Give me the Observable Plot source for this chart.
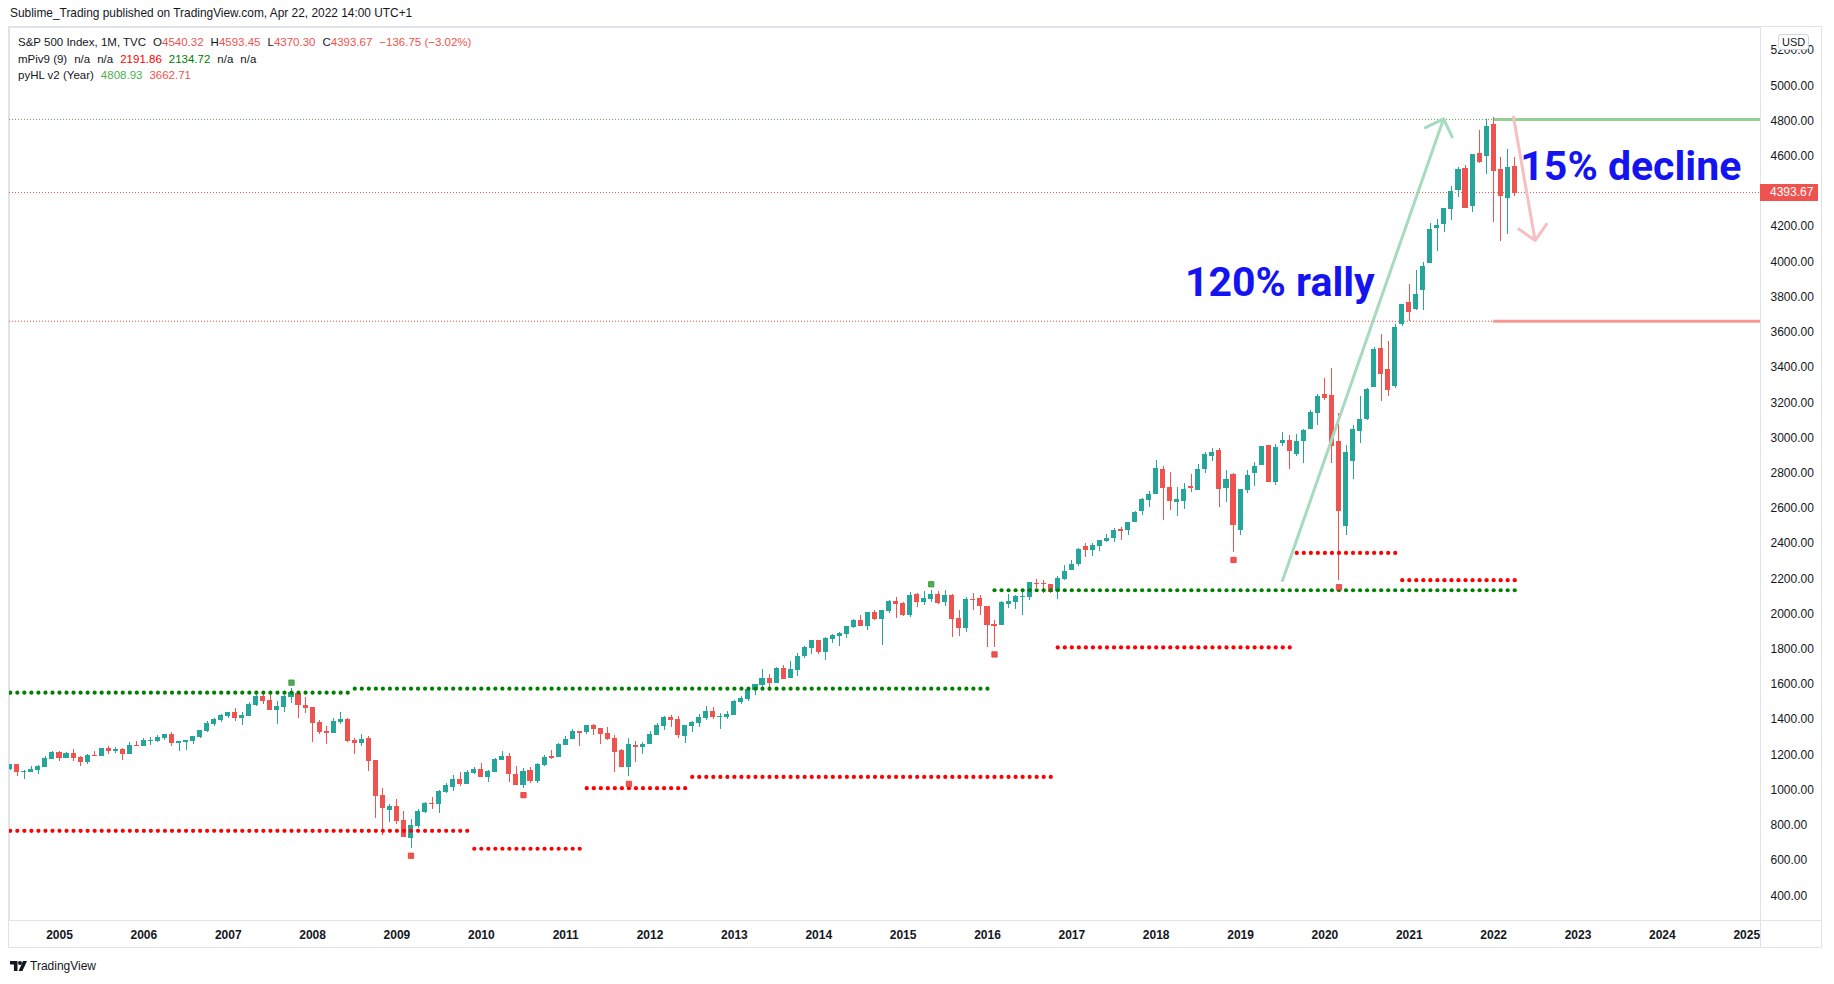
<!DOCTYPE html>
<html><head><meta charset="utf-8">
<script src="https://cdn.jsdelivr.net/npm/d3@7"></script>
<script src="https://cdn.jsdelivr.net/npm/@observablehq/plot@0.6"></script>
<style>
body{margin:0;background:#fff;}
#page{position:relative;width:1834px;height:984px;overflow:hidden;font-family:"Liberation Sans",Arial,sans-serif;color:#131722;}
#pub{position:absolute;left:10px;top:6px;font-size:11.9px;white-space:nowrap;}
#frame{position:absolute;left:8px;top:26px;width:1812px;height:920px;border:1px solid #e0e3eb;}
#chart{position:absolute;left:0;top:27px;}
.ln{position:absolute;background:#e0e3eb;}
#legend{position:absolute;left:18px;top:34px;font-size:11.5px;line-height:16.6px;white-space:nowrap;}
#legend .gap{margin-left:7px;}
.r{color:#ef5350}.rr{color:#ff0000}.gg{color:#008000}.g{color:#4caf50}
#usd{position:absolute;left:1778px;top:34px;height:14px;line-height:14px;padding:0 3px;font-size:11px;border:1px solid #d1d4dc;border-radius:3px;background:#fff;}
#last{position:absolute;left:1760px;width:58px;height:17px;line-height:17px;background:#ef5350;color:#fff;font-size:12px;box-sizing:border-box;padding-left:10px;}
#logo{position:absolute;left:10px;top:959px;font-size:12px;display:flex;align-items:center;gap:3px;}
</style></head><body>
<div id="page">
  <div id="pub">Sublime_Trading published on TradingView.com, Apr 22, 2022 14:00 UTC+1</div>
  <div id="frame"></div>
  <div id="chart"></div>
  <div class="ln" style="left:1760px;top:920px;width:62px;height:1px"></div>
  <div class="ln" style="left:1760px;top:920px;width:1px;height:28px"></div>
  <div id="legend">
    <div><span>S&amp;P 500 Index, 1M, TVC</span><span class="gap"></span><span>O</span><span class="r">4540.32</span><span class="gap"></span><span>H</span><span class="r">4593.45</span><span class="gap"></span><span>L</span><span class="r">4370.30</span><span class="gap"></span><span>C</span><span class="r">4393.67</span><span class="gap"></span><span class="r">−136.75 (−3.02%)</span></div>
    <div><span>mPiv9 (9)</span><span class="gap"></span><span>n/a</span><span class="gap"></span><span>n/a</span><span class="gap"></span><span class="rr">2191.86</span><span class="gap"></span><span class="gg">2134.72</span><span class="gap"></span><span>n/a</span><span class="gap"></span><span>n/a</span></div>
    <div><span>pyHL v2 (Year)</span><span class="gap"></span><span class="g">4808.93</span><span class="gap"></span><span class="r">3662.71</span></div>
  </div>
  <div id="usd">USD</div>
  <div id="last"></div>
  <div id="logo">
    <svg width="17" height="10" viewBox="0 0 17 10"><path d="M0 0h7.5v10h-3.6v-6.4H0z" fill="#131722"/><circle cx="10" cy="2" r="2" fill="#131722"/><path d="M13 0h4l-4.6 10H8.6z" fill="#131722"/></svg>
    <span>TradingView</span>
  </div>
</div>
<script>
// ---- data: S&P 500 monthly candles, first candle = June 2004 ----
const firstYear = 2004, firstMonth = 6;
const ohlcOpen = [
1120.68,1140.84,1101.72,1104.24,1114.58,1130.20,1173.82,
1211.92,1181.27,1203.60,1180.59,1156.85,1191.50,1191.33,1234.18,1220.33,1228.81,1207.01,1249.48,
1248.29,1280.08,1280.66,1294.83,1310.61,1270.09,1270.20,1276.66,1303.82,1335.85,1377.94,1400.63,
1418.30,1438.24,1406.82,1420.86,1482.37,1530.62,1503.35,1455.27,1473.99,1526.75,1545.79,1479.63,
1467.97,1378.60,1330.45,1326.41,1385.97,1399.62,1276.69,1269.42,1287.83,1164.17,968.67,888.61,
902.99,823.09,729.57,793.59,872.74,923.26,920.82,990.22,1019.52,1054.91,1036.18,1098.89,
1116.56,1073.89,1105.36,1171.23,1188.58,1087.30,1031.10,1107.53,1049.72,1143.49,1185.71,1186.60,
1257.62,1289.14,1328.64,1329.48,1365.21,1345.20,1320.64,1292.59,1219.12,1131.21,1251.00,1246.91,
1258.86,1312.45,1365.90,1408.47,1397.86,1309.87,1362.33,1379.32,1406.54,1440.90,1412.20,1416.18,
1426.19,1498.11,1514.68,1569.18,1597.55,1631.71,1609.78,1689.42,1635.95,1681.34,1758.70,1806.55,
1845.86,1782.68,1857.68,1873.96,1884.39,1923.87,1962.29,1929.80,2004.07,1971.44,2018.21,2065.78,
2058.90,1996.67,2105.23,2067.63,2087.38,2108.64,2067.00,2104.49,1970.09,1919.65,2080.76,2082.93,
2038.20,1936.94,1937.09,2056.62,2067.17,2093.94,2099.34,2173.15,2171.33,2164.33,2128.68,2200.17,
2251.57,2285.59,2380.13,2362.34,2388.50,2415.65,2431.39,2477.10,2474.42,2521.20,2583.21,2645.10,
2683.73,2816.45,2715.22,2633.45,2642.96,2718.70,2704.95,2821.17,2896.96,2926.29,2717.58,2790.50,
2476.96,2702.32,2798.22,2848.63,2952.33,2751.53,2971.41,2980.32,2909.01,2983.69,3050.72,3143.85,
3244.67,3235.66,2974.28,2498.08,2869.09,3038.78,3105.92,3288.26,3507.44,3385.87,3296.20,3645.87,
3764.61,3731.17,3842.51,3992.78,4191.98,4216.52,4300.73,4406.86,4528.80,4317.16,4610.62,4602.82,
4778.14,4519.57,4363.14,4540.32];
const ohlcHigh = [
1146.18,1140.84,1108.60,1131.54,1142.05,1188.46,1217.90,
1217.80,1212.44,1229.11,1191.88,1199.56,1219.59,1236.79,1245.86,1243.13,1233.34,1270.64,1275.80,
1294.90,1297.57,1310.88,1318.16,1326.70,1274.93,1280.42,1306.74,1340.28,1389.45,1407.89,1431.81,
1441.61,1461.57,1438.89,1498.02,1535.56,1540.56,1555.90,1503.89,1538.74,1576.09,1545.79,1523.57,
1471.77,1396.02,1359.68,1404.57,1440.24,1404.05,1292.17,1313.15,1303.04,1167.03,1007.51,918.85,
943.85,877.86,832.98,888.70,930.17,956.23,996.68,1039.47,1080.15,1101.36,1113.69,1130.38,
1150.45,1112.42,1180.16,1219.80,1206.48,1131.23,1120.95,1129.24,1148.90,1196.14,1227.08,1262.60,
1302.67,1344.07,1332.28,1366.94,1370.58,1345.20,1356.48,1307.38,1229.29,1292.66,1277.55,1269.37,
1333.47,1378.04,1419.15,1422.38,1415.32,1363.46,1391.74,1426.68,1474.51,1470.96,1434.27,1448.00,
1509.94,1530.94,1570.28,1597.57,1687.18,1654.19,1698.78,1709.67,1729.86,1775.22,1813.55,1849.44,
1850.84,1867.92,1883.97,1897.28,1924.03,1968.17,1991.39,2005.04,2019.26,2018.19,2075.76,2093.55,
2064.43,2119.59,2117.52,2125.92,2134.72,2129.87,2132.82,2112.66,2020.86,2094.32,2116.48,2104.27,
2038.20,1962.96,2072.21,2111.05,2103.48,2120.55,2177.09,2193.81,2187.87,2169.60,2214.10,2277.53,
2300.99,2371.54,2400.98,2398.16,2418.71,2453.82,2484.04,2490.87,2519.44,2582.98,2657.74,2694.97,
2872.87,2835.96,2801.90,2717.49,2742.10,2791.47,2848.03,2916.50,2940.91,2939.86,2815.15,2800.18,
2708.95,2813.49,2860.31,2949.52,2954.13,2964.15,3027.98,3013.59,3021.99,3050.10,3154.26,3247.93,
3337.77,3393.52,3136.72,2954.86,3068.67,3233.13,3279.99,3514.77,3588.11,3549.85,3645.99,3760.20,
3870.90,3950.43,3994.41,4218.78,4238.04,4302.43,4429.97,4537.36,4545.85,4608.08,4743.83,4808.93,
4818.62,4595.31,4637.30,4593.45];
const ohlcLow = [
1113.32,1078.78,1060.72,1099.18,1090.19,1127.60,1173.37,
1163.75,1180.95,1163.69,1136.15,1146.18,1188.30,1191.33,1201.07,1205.35,1168.20,1201.07,1246.59,
1245.74,1253.61,1268.42,1280.74,1245.34,1219.29,1224.54,1261.30,1290.93,1327.10,1360.98,1385.93,
1403.97,1389.42,1363.98,1416.37,1476.70,1484.18,1454.25,1370.60,1439.29,1489.56,1406.10,1435.65,
1270.05,1316.75,1256.98,1324.35,1373.07,1272.00,1200.44,1247.45,1106.39,839.80,741.02,815.69,
804.47,734.52,666.79,783.32,866.10,888.86,869.32,978.51,991.97,1020.18,1029.38,1085.89,
1071.59,1044.50,1105.36,1170.69,1040.78,1028.33,1010.91,1039.70,1039.70,1131.87,1173.00,1186.60,
1257.62,1289.14,1249.05,1314.61,1311.80,1258.07,1282.86,1101.54,1136.22,1074.77,1158.66,1202.37,
1258.86,1312.45,1340.03,1357.38,1291.98,1266.74,1325.41,1354.65,1396.56,1403.28,1343.35,1398.11,
1426.19,1485.01,1501.48,1536.03,1581.28,1560.33,1604.57,1627.47,1633.41,1646.47,1746.20,1767.99,
1770.45,1737.92,1834.44,1814.36,1859.79,1915.98,1930.67,1904.78,1964.04,1820.66,2001.01,1972.56,
1988.44,1980.90,2039.69,2048.38,2067.93,2056.32,2044.02,1867.01,1871.91,1893.70,2019.39,1993.26,
1812.29,1810.10,1937.09,2033.80,2025.91,1991.68,2074.02,2147.58,2119.12,2114.72,2083.79,2187.44,
2245.13,2271.65,2322.25,2328.95,2352.72,2405.70,2407.70,2417.35,2446.55,2520.40,2557.45,2605.52,
2682.36,2532.69,2585.89,2553.80,2594.62,2691.99,2698.95,2796.34,2864.12,2603.54,2631.09,2346.58,
2443.96,2681.83,2722.27,2848.63,2750.52,2728.81,2952.22,2822.12,2891.85,2855.94,3050.72,3070.33,
3214.64,2855.84,2191.86,2447.49,2766.64,2965.66,3101.17,3284.53,3209.45,3233.94,3279.74,3633.40,
3662.71,3725.62,3723.34,3992.78,4056.88,4164.40,4233.13,4367.73,4305.91,4278.94,4560.00,4495.12,
4222.62,4114.65,4157.87,4370.30];
const ohlcClose = [
1140.84,1101.72,1104.24,1114.58,1130.20,1173.82,1211.92,
1181.27,1203.60,1180.59,1156.85,1191.50,1191.33,1234.18,1220.33,1228.81,1207.01,1249.48,1248.29,
1280.08,1280.66,1294.83,1310.61,1270.09,1270.20,1276.66,1303.82,1335.85,1377.94,1400.63,1418.30,
1438.24,1406.82,1420.86,1482.37,1530.62,1503.35,1455.27,1473.99,1526.75,1549.38,1481.14,1468.36,
1378.55,1330.63,1322.70,1385.59,1400.38,1280.00,1267.38,1282.83,1166.36,968.75,896.24,903.25,
825.88,735.09,797.87,872.81,919.14,919.32,987.48,1020.62,1057.08,1036.19,1095.63,1115.10,
1073.87,1104.49,1169.43,1186.69,1089.41,1030.71,1101.60,1049.33,1141.20,1183.26,1180.55,1257.64,
1286.12,1327.22,1325.83,1363.61,1345.20,1320.64,1292.28,1218.89,1131.42,1253.30,1246.96,1257.60,
1312.41,1365.68,1408.47,1397.91,1310.33,1362.16,1379.32,1406.58,1440.67,1412.16,1416.18,1426.19,
1498.11,1514.68,1569.19,1597.57,1630.74,1606.28,1685.73,1632.97,1681.55,1756.54,1805.81,1848.36,
1782.59,1859.45,1872.34,1883.95,1923.57,1960.23,1930.67,2003.37,1972.29,2018.05,2067.56,2058.90,
1994.99,2104.50,2067.89,2085.51,2107.39,2063.11,2103.84,1972.18,1920.03,2079.36,2080.41,2043.94,
1940.24,1932.23,2059.74,2065.30,2096.95,2098.86,2173.60,2170.95,2168.27,2126.15,2198.81,2238.83,
2278.87,2363.64,2362.72,2384.20,2411.80,2423.41,2470.30,2471.65,2519.36,2575.26,2647.58,2673.61,
2823.81,2713.83,2640.87,2648.05,2705.27,2718.37,2816.29,2901.52,2913.98,2711.74,2760.17,2506.85,
2704.10,2784.49,2834.40,2945.83,2752.06,2941.76,2980.38,2926.46,2976.74,3037.56,3140.98,3230.78,
3225.52,2954.22,2584.59,2912.43,3044.31,3100.29,3271.12,3500.31,3363.00,3269.96,3621.63,3756.07,
3714.24,3811.15,3972.89,4181.17,4204.11,4297.50,4395.26,4522.68,4307.54,4605.38,4567.00,4766.18,
4515.55,4373.94,4530.41,4393.67];

// axes
const yearTicks = [2005,2006,2007,2008,2009,2010,2011,2012,2013,2014,2015,2016,2017,2018,2019,2020,2021,2022,2023,2024,2025];
const priceTicks = [400,600,800,1000,1200,1400,1600,1800,2000,2200,2400,2600,2800,3000,3200,3400,3600,3800,4000,4200,4400,4600,4800,5000,5200];

// mPiv9 pivot levels (dotted steps) and pivot bars (squares)
const pivotHighLevel = [1552.87, 1576.09, 2134.72];
const pivotHighFrom  = ["2004-06", "2008-07", "2016-02"];
const pivotHighTo    = ["2008-06", "2016-01", "2022-04"];
const pivotLowLevel  = [768.63, 666.79, 1010.91, 1074.77, 1810.10, 2346.58, 2191.86];
const pivotLowFrom   = ["2004-06", "2009-12", "2011-04", "2012-07", "2016-11", "2019-09", "2020-12"];
const pivotLowTo     = ["2009-11", "2011-03", "2012-06", "2016-10", "2019-08", "2020-11", "2022-04"];
const pivotHighBars  = ["2007-10", "2015-05"];
const pivotLowBars   = ["2009-03", "2010-07", "2011-10", "2016-02", "2018-12", "2020-03"];

// pyHL (previous year high / low)
const prevYearHigh = 4808.93, prevYearLow = 3662.71, pyhlFrom = "2022-01";

// drawings: arrows (month index from Jan 2005, price) and labels
const arrowFromX = [173.97, 206.83], arrowFromY = [2190, 4822];
const arrowToX   = [196.87, 209.90], arrowToY   = [4812, 4121];
const noteText = ["120% rally", "15% decline"];
const noteX = [160.1, 207.8], noteY = [3808, 4465];

// ---- build ----
const UP = "#26a69a", DOWN = "#ef5350";
const mi = s => { const [y, m] = s.split("-").map(Number); return (y - 2005) * 12 + (m - 1); };
const first = (firstYear - 2005) * 12 + (firstMonth - 1);
const candles = ohlcOpen.map((o, i) => ({m: first + i, open: o, high: ohlcHigh[i], low: ohlcLow[i], close: ohlcClose[i]}));
const ups = candles.filter(d => d.close >= d.open), downs = candles.filter(d => d.close < d.open);
const byM = new Map(candles.map(d => [d.m, d]));
const stepDots = (lv, fr, to) => lv.flatMap((v, k) => d3.range(mi(fr[k]), mi(to[k]) + 1).map(m => ({m, v})));
const hiDots = stepDots(pivotHighLevel, pivotHighFrom, pivotHighTo);
const loDots = stepDots(pivotLowLevel, pivotLowFrom, pivotLowTo);
const hiSq = pivotHighBars.map(s => byM.get(mi(s)));
const loSq = pivotLowBars.map(s => byM.get(mi(s)));
const arrows = arrowFromX.map((x, i) => ({x1: x, y1: arrowFromY[i], x2: arrowToX[i], y2: arrowToY[i]}));
const notes = noteText.map((t, i) => ({t, x: noteX[i], y: noteY[i]}));
const lastClose = ohlcClose[ohlcClose.length - 1];

const xDom = [-7.112, 241.96];
const font = "'Liberation Sans', Arial, sans-serif";
const plot = Plot.plot({
  width: 1834, height: 921,
  marginLeft: 9, marginRight: 74, marginTop: 0, marginBottom: 28,
  style: {fontFamily: font, fontSize: "12px", color: "#131722", background: "transparent"},
  x: {type: "linear", domain: xDom},
  y: {type: "linear", domain: [259.2, 5331.0]},
  marks: [
    Plot.frame({stroke: "#e0e3eb"}),
    Plot.axisY(priceTicks, {anchor: "right", tickSize: 0, tickPadding: 10, tickFormat: d3.format(".2f"), fontSize: 12}),
    Plot.axisX(yearTicks.map(y => (y - 2005) * 12), {anchor: "bottom", tickSize: 0, tickPadding: 10, tickFormat: m => String(2005 + m / 12), fontWeight: "bold", fontSize: 12}),
    // pyHL: dotted up to the start of the year, solid afterwards
    Plot.ruleY([prevYearHigh], {x1: xDom[0], x2: mi(pyhlFrom), stroke: "#4caf50", strokeDasharray: "1,2"}),
    Plot.ruleY([prevYearLow], {x1: xDom[0], x2: mi(pyhlFrom), stroke: "#f44336", strokeDasharray: "1,2"}),
    Plot.ruleY([prevYearHigh], {x1: mi(pyhlFrom), x2: xDom[1], stroke: "#4caf50", strokeOpacity: 0.6, strokeWidth: 3}),
    Plot.ruleY([prevYearLow], {x1: mi(pyhlFrom), x2: xDom[1], stroke: "#f44336", strokeOpacity: 0.55, strokeWidth: 3}),
    Plot.ruleY([lastClose], {stroke: "#ef5350", strokeDasharray: "1,2"}),
    // candles
    Plot.ruleX(ups, {x: "m", y1: "low", y2: "high", stroke: UP, strokeWidth: 1, clip: true, shapeRendering: "crispEdges"}),
    Plot.ruleX(downs, {x: "m", y1: "low", y2: "high", stroke: DOWN, strokeWidth: 1, clip: true, shapeRendering: "crispEdges"}),
    Plot.rect(ups, {x1: d => d.m - 0.36, x2: d => d.m + 0.36, y1: "open", y2: "close", fill: UP, insetTop: -0.5, insetBottom: -0.5, clip: true, shapeRendering: "crispEdges"}),
    Plot.rect(downs, {x1: d => d.m - 0.36, x2: d => d.m + 0.36, y1: "open", y2: "close", fill: DOWN, insetTop: -0.5, insetBottom: -0.5, clip: true, shapeRendering: "crispEdges"}),
    // mPiv9
    Plot.dot(hiDots, {x: "m", y: "v", r: 2.1, fill: "#008000", clip: true}),
    Plot.dot(loDots, {x: "m", y: "v", r: 2.1, fill: "#ff0000", clip: true}),
    Plot.dot(hiSq, {x: "m", y: "high", dy: -6, symbol: "square", r: 3, fill: "#4caf50", stroke: "#388e3c", strokeWidth: 0.8}),
    Plot.dot(loSq, {x: "m", y: "low", dy: 7, symbol: "square", r: 3, fill: "#ef5350", stroke: "#e53935", strokeWidth: 0.8}),
    // drawings
    Plot.arrow(arrows.slice(0, 1), {x1: "x1", y1: "y1", x2: "x2", y2: "y2", stroke: "#a6dbbf", strokeWidth: 3, headLength: 10, headAngle: 90}),
    Plot.arrow(arrows.slice(1), {x1: "x1", y1: "y1", x2: "x2", y2: "y2", stroke: "#f6c0c0", strokeWidth: 3, headLength: 10, headAngle: 90}),
    Plot.text(notes, {x: "x", y: "y", text: "t", fill: "#1414f0", fontSize: 41, fontWeight: "bold", fontFamily: "Roboto", textAnchor: "start", lineAnchor: "bottom"})
  ]
});
document.getElementById("chart").appendChild(plot);
const last = document.getElementById("last");
last.textContent = d3.format(".2f")(lastClose);
last.style.top = (27 + plot.scale("y").apply(lastClose) - 8.5) + "px";
</script>
</body></html>
